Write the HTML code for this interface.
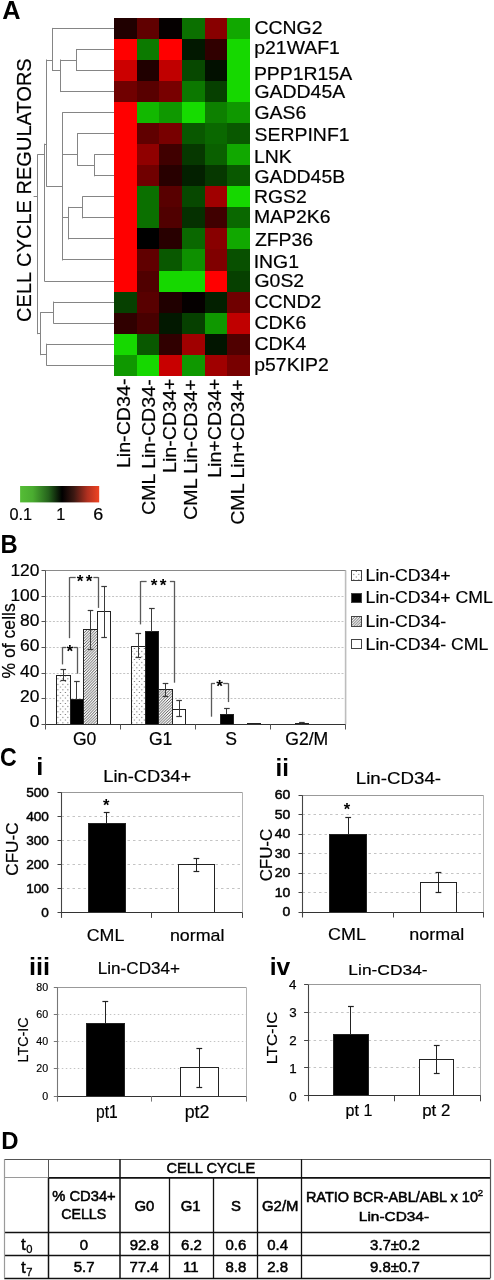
<!DOCTYPE html>
<html><head><meta charset="utf-8"><style>
html,body{margin:0;padding:0;background:#fff;}
svg{display:block;will-change:transform;}
text{font-family:"Liberation Sans", sans-serif;}
</style></head><body>
<svg width="494" height="1280" viewBox="0 0 494 1280" font-family='"Liberation Sans", sans-serif'>
<rect width="494" height="1280" fill="#fff"/>
<g shape-rendering="crispEdges">
<rect x="114" y="17.9" width="23.23" height="21.65" fill="#200000"/>
<rect x="136.63" y="17.9" width="23.23" height="21.65" fill="#600000"/>
<rect x="159.26" y="17.9" width="23.23" height="21.65" fill="#050000"/>
<rect x="181.89" y="17.9" width="23.23" height="21.65" fill="#0b7000"/>
<rect x="204.52" y="17.9" width="23.23" height="21.65" fill="#880000"/>
<rect x="227.15" y="17.9" width="23.23" height="21.65" fill="#11a800"/>
<rect x="114" y="38.95" width="23.23" height="21.65" fill="#ff0000"/>
<rect x="136.63" y="38.95" width="23.23" height="21.65" fill="#0c7a00"/>
<rect x="159.26" y="38.95" width="23.23" height="21.65" fill="#ff0000"/>
<rect x="181.89" y="38.95" width="23.23" height="21.65" fill="#021800"/>
<rect x="204.52" y="38.95" width="23.23" height="21.65" fill="#300000"/>
<rect x="227.15" y="38.95" width="23.23" height="21.65" fill="#16d800"/>
<rect x="114" y="60" width="23.23" height="21.65" fill="#cc0000"/>
<rect x="136.63" y="60" width="23.23" height="21.65" fill="#200000"/>
<rect x="159.26" y="60" width="23.23" height="21.65" fill="#c00000"/>
<rect x="181.89" y="60" width="23.23" height="21.65" fill="#074800"/>
<rect x="204.52" y="60" width="23.23" height="21.65" fill="#021000"/>
<rect x="227.15" y="60" width="23.23" height="21.65" fill="#16d800"/>
<rect x="114" y="81.05" width="23.23" height="21.65" fill="#700000"/>
<rect x="136.63" y="81.05" width="23.23" height="21.65" fill="#580000"/>
<rect x="159.26" y="81.05" width="23.23" height="21.65" fill="#780000"/>
<rect x="181.89" y="81.05" width="23.23" height="21.65" fill="#0c7800"/>
<rect x="204.52" y="81.05" width="23.23" height="21.65" fill="#064000"/>
<rect x="227.15" y="81.05" width="23.23" height="21.65" fill="#16d800"/>
<rect x="114" y="102.1" width="23.23" height="21.65" fill="#ff0000"/>
<rect x="136.63" y="102.1" width="23.23" height="21.65" fill="#12b800"/>
<rect x="159.26" y="102.1" width="23.23" height="21.65" fill="#0f9800"/>
<rect x="181.89" y="102.1" width="23.23" height="21.65" fill="#16dc00"/>
<rect x="204.52" y="102.1" width="23.23" height="21.65" fill="#0d8000"/>
<rect x="227.15" y="102.1" width="23.23" height="21.65" fill="#0f9800"/>
<rect x="114" y="123.15" width="23.23" height="21.65" fill="#ff0000"/>
<rect x="136.63" y="123.15" width="23.23" height="21.65" fill="#600000"/>
<rect x="159.26" y="123.15" width="23.23" height="21.65" fill="#780000"/>
<rect x="181.89" y="123.15" width="23.23" height="21.65" fill="#095800"/>
<rect x="204.52" y="123.15" width="23.23" height="21.65" fill="#0a6800"/>
<rect x="227.15" y="123.15" width="23.23" height="21.65" fill="#095800"/>
<rect x="114" y="144.2" width="23.23" height="21.65" fill="#ff0000"/>
<rect x="136.63" y="144.2" width="23.23" height="21.65" fill="#900000"/>
<rect x="159.26" y="144.2" width="23.23" height="21.65" fill="#400000"/>
<rect x="181.89" y="144.2" width="23.23" height="21.65" fill="#063800"/>
<rect x="204.52" y="144.2" width="23.23" height="21.65" fill="#0a6000"/>
<rect x="227.15" y="144.2" width="23.23" height="21.65" fill="#11a800"/>
<rect x="114" y="165.25" width="23.23" height="21.65" fill="#ff0000"/>
<rect x="136.63" y="165.25" width="23.23" height="21.65" fill="#700000"/>
<rect x="159.26" y="165.25" width="23.23" height="21.65" fill="#280000"/>
<rect x="181.89" y="165.25" width="23.23" height="21.65" fill="#032000"/>
<rect x="204.52" y="165.25" width="23.23" height="21.65" fill="#063800"/>
<rect x="227.15" y="165.25" width="23.23" height="21.65" fill="#095800"/>
<rect x="114" y="186.3" width="23.23" height="21.65" fill="#ff0000"/>
<rect x="136.63" y="186.3" width="23.23" height="21.65" fill="#0b7000"/>
<rect x="159.26" y="186.3" width="23.23" height="21.65" fill="#580000"/>
<rect x="181.89" y="186.3" width="23.23" height="21.65" fill="#074800"/>
<rect x="204.52" y="186.3" width="23.23" height="21.65" fill="#a00000"/>
<rect x="227.15" y="186.3" width="23.23" height="21.65" fill="#16d800"/>
<rect x="114" y="207.35" width="23.23" height="21.65" fill="#ff0000"/>
<rect x="136.63" y="207.35" width="23.23" height="21.65" fill="#0b7000"/>
<rect x="159.26" y="207.35" width="23.23" height="21.65" fill="#500000"/>
<rect x="181.89" y="207.35" width="23.23" height="21.65" fill="#053000"/>
<rect x="204.52" y="207.35" width="23.23" height="21.65" fill="#400000"/>
<rect x="227.15" y="207.35" width="23.23" height="21.65" fill="#0a6800"/>
<rect x="114" y="228.4" width="23.23" height="21.65" fill="#ff0000"/>
<rect x="136.63" y="228.4" width="23.23" height="21.65" fill="#000000"/>
<rect x="159.26" y="228.4" width="23.23" height="21.65" fill="#280000"/>
<rect x="181.89" y="228.4" width="23.23" height="21.65" fill="#0a6800"/>
<rect x="204.52" y="228.4" width="23.23" height="21.65" fill="#880000"/>
<rect x="227.15" y="228.4" width="23.23" height="21.65" fill="#11a800"/>
<rect x="114" y="249.45" width="23.23" height="21.65" fill="#ff0000"/>
<rect x="136.63" y="249.45" width="23.23" height="21.65" fill="#600000"/>
<rect x="159.26" y="249.45" width="23.23" height="21.65" fill="#095800"/>
<rect x="181.89" y="249.45" width="23.23" height="21.65" fill="#0e9000"/>
<rect x="204.52" y="249.45" width="23.23" height="21.65" fill="#800000"/>
<rect x="227.15" y="249.45" width="23.23" height="21.65" fill="#085000"/>
<rect x="114" y="270.5" width="23.23" height="21.65" fill="#ff0000"/>
<rect x="136.63" y="270.5" width="23.23" height="21.65" fill="#500000"/>
<rect x="159.26" y="270.5" width="23.23" height="21.65" fill="#16d800"/>
<rect x="181.89" y="270.5" width="23.23" height="21.65" fill="#16d800"/>
<rect x="204.52" y="270.5" width="23.23" height="21.65" fill="#ff0000"/>
<rect x="227.15" y="270.5" width="23.23" height="21.65" fill="#064000"/>
<rect x="114" y="291.55" width="23.23" height="21.65" fill="#064000"/>
<rect x="136.63" y="291.55" width="23.23" height="21.65" fill="#580000"/>
<rect x="159.26" y="291.55" width="23.23" height="21.65" fill="#200000"/>
<rect x="181.89" y="291.55" width="23.23" height="21.65" fill="#050000"/>
<rect x="204.52" y="291.55" width="23.23" height="21.65" fill="#032000"/>
<rect x="227.15" y="291.55" width="23.23" height="21.65" fill="#700000"/>
<rect x="114" y="312.6" width="23.23" height="21.65" fill="#300000"/>
<rect x="136.63" y="312.6" width="23.23" height="21.65" fill="#480000"/>
<rect x="159.26" y="312.6" width="23.23" height="21.65" fill="#021800"/>
<rect x="181.89" y="312.6" width="23.23" height="21.65" fill="#064000"/>
<rect x="204.52" y="312.6" width="23.23" height="21.65" fill="#0f9800"/>
<rect x="227.15" y="312.6" width="23.23" height="21.65" fill="#c00000"/>
<rect x="114" y="333.65" width="23.23" height="21.65" fill="#16d800"/>
<rect x="136.63" y="333.65" width="23.23" height="21.65" fill="#095800"/>
<rect x="159.26" y="333.65" width="23.23" height="21.65" fill="#300000"/>
<rect x="181.89" y="333.65" width="23.23" height="21.65" fill="#a00000"/>
<rect x="204.52" y="333.65" width="23.23" height="21.65" fill="#021500"/>
<rect x="227.15" y="333.65" width="23.23" height="21.65" fill="#500000"/>
<rect x="114" y="354.7" width="23.23" height="21.65" fill="#0f9800"/>
<rect x="136.63" y="354.7" width="23.23" height="21.65" fill="#16d800"/>
<rect x="159.26" y="354.7" width="23.23" height="21.65" fill="#c80000"/>
<rect x="181.89" y="354.7" width="23.23" height="21.65" fill="#0f9800"/>
<rect x="204.52" y="354.7" width="23.23" height="21.65" fill="#a00000"/>
<rect x="227.15" y="354.7" width="23.23" height="21.65" fill="#780000"/>
</g>
<line x1="76.5" y1="49.5" x2="114" y2="49.5" stroke="#858585" stroke-width="1"/>
<line x1="76.5" y1="70.5" x2="114" y2="70.5" stroke="#858585" stroke-width="1"/>
<line x1="76.5" y1="48.98" x2="76.5" y2="71.03" stroke="#858585" stroke-width="1"/>
<line x1="60.1" y1="60.5" x2="76.5" y2="60.5" stroke="#858585" stroke-width="1"/>
<line x1="60.1" y1="91.5" x2="114" y2="91.5" stroke="#858585" stroke-width="1"/>
<line x1="60.5" y1="59.5" x2="60.5" y2="92.07" stroke="#858585" stroke-width="1"/>
<line x1="52.4" y1="28.5" x2="114" y2="28.5" stroke="#858585" stroke-width="1"/>
<line x1="52.4" y1="70.5" x2="60.1" y2="70.5" stroke="#858585" stroke-width="1"/>
<line x1="52.5" y1="27.92" x2="52.5" y2="71.02" stroke="#858585" stroke-width="1"/>
<line x1="94.5" y1="154.5" x2="114" y2="154.5" stroke="#858585" stroke-width="1"/>
<line x1="94.5" y1="175.5" x2="114" y2="175.5" stroke="#858585" stroke-width="1"/>
<line x1="94.5" y1="154.23" x2="94.5" y2="176.28" stroke="#858585" stroke-width="1"/>
<line x1="77.3" y1="133.5" x2="114" y2="133.5" stroke="#858585" stroke-width="1"/>
<line x1="77.3" y1="165.5" x2="94.5" y2="165.5" stroke="#858585" stroke-width="1"/>
<line x1="77.5" y1="133.18" x2="77.5" y2="165.75" stroke="#858585" stroke-width="1"/>
<line x1="62.9" y1="112.5" x2="114" y2="112.5" stroke="#858585" stroke-width="1"/>
<line x1="62.9" y1="154.5" x2="77.3" y2="154.5" stroke="#858585" stroke-width="1"/>
<line x1="62.5" y1="112.12" x2="62.5" y2="155.23" stroke="#858585" stroke-width="1"/>
<line x1="82.5" y1="196.5" x2="114" y2="196.5" stroke="#858585" stroke-width="1"/>
<line x1="82.5" y1="217.5" x2="114" y2="217.5" stroke="#858585" stroke-width="1"/>
<line x1="82.5" y1="196.33" x2="82.5" y2="218.38" stroke="#858585" stroke-width="1"/>
<line x1="68.2" y1="207.5" x2="82.5" y2="207.5" stroke="#858585" stroke-width="1"/>
<line x1="68.2" y1="238.5" x2="114" y2="238.5" stroke="#858585" stroke-width="1"/>
<line x1="68.5" y1="206.85" x2="68.5" y2="239.43" stroke="#858585" stroke-width="1"/>
<line x1="62.1" y1="217.5" x2="68.2" y2="217.5" stroke="#858585" stroke-width="1"/>
<line x1="62.1" y1="259.5" x2="114" y2="259.5" stroke="#858585" stroke-width="1"/>
<line x1="62.5" y1="217.38" x2="62.5" y2="260.48" stroke="#858585" stroke-width="1"/>
<line x1="62.5" y1="144.5" x2="62.9" y2="144.5" stroke="#858585" stroke-width="1"/>
<line x1="62.5" y1="228.5" x2="62.1" y2="228.5" stroke="#858585" stroke-width="1"/>
<line x1="62.5" y1="143.7" x2="62.5" y2="228.9" stroke="#858585" stroke-width="1"/>
<line x1="46.6" y1="60.5" x2="52.4" y2="60.5" stroke="#858585" stroke-width="1"/>
<line x1="46.6" y1="186.5" x2="62.5" y2="186.5" stroke="#858585" stroke-width="1"/>
<line x1="46.5" y1="59.5" x2="46.5" y2="186.8" stroke="#858585" stroke-width="1"/>
<line x1="44.6" y1="144.5" x2="46.6" y2="144.5" stroke="#858585" stroke-width="1"/>
<line x1="44.6" y1="281.5" x2="114" y2="281.5" stroke="#858585" stroke-width="1"/>
<line x1="44.5" y1="143.7" x2="44.5" y2="281.52" stroke="#858585" stroke-width="1"/>
<line x1="53.5" y1="302.5" x2="114" y2="302.5" stroke="#858585" stroke-width="1"/>
<line x1="53.5" y1="323.5" x2="114" y2="323.5" stroke="#858585" stroke-width="1"/>
<line x1="53.5" y1="301.57" x2="53.5" y2="323.62" stroke="#858585" stroke-width="1"/>
<line x1="46.6" y1="344.5" x2="114" y2="344.5" stroke="#858585" stroke-width="1"/>
<line x1="46.6" y1="365.5" x2="114" y2="365.5" stroke="#858585" stroke-width="1"/>
<line x1="46.5" y1="343.68" x2="46.5" y2="365.72" stroke="#858585" stroke-width="1"/>
<line x1="40.7" y1="312.5" x2="53.5" y2="312.5" stroke="#858585" stroke-width="1"/>
<line x1="40.7" y1="354.5" x2="46.6" y2="354.5" stroke="#858585" stroke-width="1"/>
<line x1="40.5" y1="312.1" x2="40.5" y2="355.2" stroke="#858585" stroke-width="1"/>
<line x1="37.6" y1="154.5" x2="44.6" y2="154.5" stroke="#858585" stroke-width="1"/>
<line x1="37.6" y1="333.5" x2="40.7" y2="333.5" stroke="#858585" stroke-width="1"/>
<line x1="37.5" y1="154.22" x2="37.5" y2="334.15" stroke="#858585" stroke-width="1"/>
<line x1="33.6" y1="196.5" x2="37.6" y2="196.5" stroke="#858585" stroke-width="1"/>
<text transform="translate(2.27,18.5) scale(1,1)" font-size="25.3" font-weight="bold" fill="#000">A</text>
<text transform="translate(31.3,321.92) rotate(-90) scale(0.96,1)" font-size="20.9" stroke="#000" stroke-width="0.2" fill="#000">CELL CYCLE REGULATORS</text>
<text transform="translate(254.51,34.3) scale(1.05,1)" font-size="18.5" stroke="#000" stroke-width="0.2" fill="#000">CCNG2</text>
<text transform="translate(254.25,54.3) scale(1.05,1)" font-size="18.5" stroke="#000" stroke-width="0.2" fill="#000">p21WAF1</text>
<text transform="translate(253.91,79.7) scale(1.05,1)" font-size="18.5" stroke="#000" stroke-width="0.2" fill="#000">PPP1R15A</text>
<text transform="translate(254.52,98.1) scale(1.05,1)" font-size="18.5" stroke="#000" stroke-width="0.2" fill="#000">GADD45A</text>
<text transform="translate(254.52,119.3) scale(1.05,1)" font-size="18.5" stroke="#000" stroke-width="0.2" fill="#000">GAS6</text>
<text transform="translate(254.62,141.1) scale(1.05,1)" font-size="18.5" stroke="#000" stroke-width="0.2" fill="#000">SERPINF1</text>
<text transform="translate(253.91,162.9) scale(1.05,1)" font-size="18.5" stroke="#000" stroke-width="0.2" fill="#000">LNK</text>
<text transform="translate(254.52,182.9) scale(1.05,1)" font-size="18.5" stroke="#000" stroke-width="0.2" fill="#000">GADD45B</text>
<text transform="translate(253.91,203.3) scale(1.05,1)" font-size="18.5" stroke="#000" stroke-width="0.2" fill="#000">RGS2</text>
<text transform="translate(253.91,223.1) scale(1.05,1)" font-size="18.5" stroke="#000" stroke-width="0.2" fill="#000">MAP2K6</text>
<text transform="translate(254.88,246.3) scale(1.05,1)" font-size="18.5" stroke="#000" stroke-width="0.2" fill="#000">ZFP36</text>
<text transform="translate(253.71,267.5) scale(1.05,1)" font-size="18.5" stroke="#000" stroke-width="0.2" fill="#000">ING1</text>
<text transform="translate(254.52,287.3) scale(1.05,1)" font-size="18.5" stroke="#000" stroke-width="0.2" fill="#000">G0S2</text>
<text transform="translate(254.51,307.9) scale(1.05,1)" font-size="18.5" stroke="#000" stroke-width="0.2" fill="#000">CCND2</text>
<text transform="translate(254.51,329.1) scale(1.05,1)" font-size="18.5" stroke="#000" stroke-width="0.2" fill="#000">CDK6</text>
<text transform="translate(254.51,350.1) scale(1.05,1)" font-size="18.5" stroke="#000" stroke-width="0.2" fill="#000">CDK4</text>
<text transform="translate(254.25,370.8) scale(1.05,1)" font-size="18.5" stroke="#000" stroke-width="0.2" fill="#000">p57KIP2</text>
<text transform="translate(130.4,468.1) rotate(-90) scale(1.08,1)" font-size="18.2" stroke="#000" stroke-width="0.2" fill="#000">Lin-CD34-</text>
<text transform="translate(154.5,515.06) rotate(-90) scale(1.08,1)" font-size="18.2" stroke="#000" stroke-width="0.2" fill="#000">CML Lin-CD34-</text>
<text transform="translate(175.8,472.94) rotate(-90) scale(1.08,1)" font-size="18.2" stroke="#000" stroke-width="0.2" fill="#000">Lin-CD34+</text>
<text transform="translate(197,519.9) rotate(-90) scale(1.08,1)" font-size="18.2" stroke="#000" stroke-width="0.2" fill="#000">CML Lin-CD34+</text>
<text transform="translate(221.1,477.87) rotate(-90) scale(1.08,1)" font-size="18.2" stroke="#000" stroke-width="0.2" fill="#000">Lin+CD34+</text>
<text transform="translate(243.8,524.83) rotate(-90) scale(1.08,1)" font-size="18.2" stroke="#000" stroke-width="0.2" fill="#000">CML Lin+CD34+</text>
<defs><linearGradient id="cs" x1="0" x2="1" y1="0" y2="0"><stop offset="0" stop-color="#55bd36"/><stop offset="0.16" stop-color="#4aac30"/><stop offset="0.36" stop-color="#25621c"/><stop offset="0.53" stop-color="#000"/><stop offset="0.68" stop-color="#3c1812"/><stop offset="0.85" stop-color="#b03020"/><stop offset="1" stop-color="#f04422"/></linearGradient></defs>
<rect x="20.1" y="486" width="79.1" height="16.4" fill="url(#cs)"/>
<text transform="translate(9.46,520) scale(1,1)" font-size="16.3" stroke="#000" stroke-width="0.2" fill="#000">0.1</text>
<text transform="translate(56.24,520) scale(1,1)" font-size="16.3" stroke="#000" stroke-width="0.2" fill="#000">1</text>
<text transform="translate(93.3,520) scale(1.1,1)" font-size="16.3" stroke="#000" stroke-width="0.2" fill="#000">6</text>
<defs><pattern id="dots" patternUnits="userSpaceOnUse" width="4.93" height="5.5" x="0" y="0"><rect width="4.93" height="5.5" fill="#fff"/><rect x="0.8" y="4.6" width="1" height="1" fill="#5a5a5a"/><rect x="3.26" y="1.85" width="1" height="1" fill="#5a5a5a"/></pattern><pattern id="hatch" patternUnits="userSpaceOnUse" width="2.8" height="2.8"><rect width="2.8" height="2.8" fill="#fafafa"/><path d="M-1,1 L1,-1 M0,2.8 L2.8,0 M1.8,3.8 L3.8,1.8" stroke="#3a3a3a" stroke-width="0.85"/></pattern></defs>
<text transform="translate(0.51,552.8) scale(0.93,1)" font-size="25.6" font-weight="bold" fill="#000">B</text>
<line x1="45.5" y1="698.5" x2="345" y2="698.5" stroke="#c4c4c4" stroke-width="1" stroke-dasharray="2,1.7"/>
<line x1="45.5" y1="673.5" x2="345" y2="673.5" stroke="#c4c4c4" stroke-width="1" stroke-dasharray="2,1.7"/>
<line x1="45.5" y1="647.5" x2="345" y2="647.5" stroke="#c4c4c4" stroke-width="1" stroke-dasharray="2,1.7"/>
<line x1="45.5" y1="621.5" x2="345" y2="621.5" stroke="#c4c4c4" stroke-width="1" stroke-dasharray="2,1.7"/>
<line x1="45.5" y1="596.5" x2="345" y2="596.5" stroke="#c4c4c4" stroke-width="1" stroke-dasharray="2,1.7"/>
<line x1="45.5" y1="570.5" x2="346" y2="570.5" stroke="#8a8a8a" stroke-width="1"/>
<line x1="345.6" y1="570.4" x2="345.6" y2="724.4" stroke="#bdbdbd" stroke-width="1.6"/>
<line x1="41.5" y1="724.5" x2="45.5" y2="724.5" stroke="#555" stroke-width="1"/>
<text transform="translate(29.79,726.99) scale(1.05,1)" font-size="16.6" stroke="#000" stroke-width="0.2" fill="#000">0</text>
<line x1="41.5" y1="698.5" x2="45.5" y2="698.5" stroke="#555" stroke-width="1"/>
<text transform="translate(20.09,701.78) scale(1.05,1)" font-size="16.6" stroke="#000" stroke-width="0.2" fill="#000">20</text>
<line x1="41.5" y1="673.5" x2="45.5" y2="673.5" stroke="#555" stroke-width="1"/>
<text transform="translate(20.09,676.56) scale(1.05,1)" font-size="16.6" stroke="#000" stroke-width="0.2" fill="#000">40</text>
<line x1="41.5" y1="647.5" x2="45.5" y2="647.5" stroke="#555" stroke-width="1"/>
<text transform="translate(20.09,651.34) scale(1.05,1)" font-size="16.6" stroke="#000" stroke-width="0.2" fill="#000">60</text>
<line x1="41.5" y1="621.5" x2="45.5" y2="621.5" stroke="#555" stroke-width="1"/>
<text transform="translate(20.09,626.13) scale(1.05,1)" font-size="16.6" stroke="#000" stroke-width="0.2" fill="#000">80</text>
<line x1="41.5" y1="596.5" x2="45.5" y2="596.5" stroke="#555" stroke-width="1"/>
<text transform="translate(10.4,600.91) scale(1.05,1)" font-size="16.6" stroke="#000" stroke-width="0.2" fill="#000">100</text>
<line x1="41.5" y1="570.5" x2="45.5" y2="570.5" stroke="#555" stroke-width="1"/>
<text transform="translate(10.4,575.69) scale(1.05,1)" font-size="16.6" stroke="#000" stroke-width="0.2" fill="#000">120</text>
<text transform="translate(14.9,678.53) rotate(-90) scale(1,1)" font-size="17.6" stroke="#000" stroke-width="0.2" fill="#000">% of cells</text>
<rect x="56.5" y="675.5" width="14" height="49" fill="url(#dots)" stroke="#222" stroke-width="1"/>
<line x1="63.5" y1="669.86" x2="63.5" y2="680.25" stroke="#3a3a3a" stroke-width="1"/>
<line x1="60.5" y1="669.5" x2="66.1" y2="669.5" stroke="#3a3a3a" stroke-width="1.2"/>
<line x1="60.5" y1="680.5" x2="66.1" y2="680.5" stroke="#3a3a3a" stroke-width="1.2"/>
<rect x="70.5" y="699.5" width="13" height="25" fill="#000" stroke="#222" stroke-width="1"/>
<line x1="76.5" y1="681.02" x2="76.5" y2="699.76" stroke="#3a3a3a" stroke-width="1"/>
<line x1="74.1" y1="681.5" x2="79.7" y2="681.5" stroke="#3a3a3a" stroke-width="1.2"/>
<rect x="83.5" y="629.5" width="14" height="95" fill="url(#hatch)" stroke="#222" stroke-width="1"/>
<line x1="90.5" y1="610.95" x2="90.5" y2="649.45" stroke="#3a3a3a" stroke-width="1"/>
<line x1="87.7" y1="610.5" x2="93.3" y2="610.5" stroke="#3a3a3a" stroke-width="1.2"/>
<line x1="87.7" y1="649.5" x2="93.3" y2="649.5" stroke="#3a3a3a" stroke-width="1.2"/>
<rect x="97.5" y="611.5" width="13" height="113" fill="#fff" stroke="#222" stroke-width="1"/>
<line x1="104.5" y1="586.18" x2="104.5" y2="637.13" stroke="#3a3a3a" stroke-width="1"/>
<line x1="101.3" y1="586.5" x2="106.9" y2="586.5" stroke="#3a3a3a" stroke-width="1.2"/>
<line x1="101.3" y1="637.5" x2="106.9" y2="637.5" stroke="#3a3a3a" stroke-width="1.2"/>
<rect x="131.5" y="646.5" width="14" height="78" fill="url(#dots)" stroke="#222" stroke-width="1"/>
<line x1="138.5" y1="633.41" x2="138.5" y2="657.67" stroke="#3a3a3a" stroke-width="1"/>
<line x1="135.5" y1="633.5" x2="141.1" y2="633.5" stroke="#3a3a3a" stroke-width="1.2"/>
<line x1="135.5" y1="657.5" x2="141.1" y2="657.5" stroke="#3a3a3a" stroke-width="1.2"/>
<rect x="145.5" y="631.5" width="13" height="93" fill="#000" stroke="#222" stroke-width="1"/>
<line x1="151.5" y1="608.64" x2="151.5" y2="631.87" stroke="#3a3a3a" stroke-width="1"/>
<line x1="149.1" y1="608.5" x2="154.7" y2="608.5" stroke="#3a3a3a" stroke-width="1.2"/>
<rect x="158.5" y="689.5" width="14" height="35" fill="url(#hatch)" stroke="#222" stroke-width="1"/>
<line x1="165.5" y1="683.08" x2="165.5" y2="696.55" stroke="#3a3a3a" stroke-width="1"/>
<line x1="162.7" y1="683.5" x2="168.3" y2="683.5" stroke="#3a3a3a" stroke-width="1.2"/>
<line x1="162.7" y1="696.5" x2="168.3" y2="696.5" stroke="#3a3a3a" stroke-width="1.2"/>
<rect x="172.5" y="709.5" width="13" height="15" fill="#fff" stroke="#222" stroke-width="1"/>
<line x1="179.5" y1="700.4" x2="179.5" y2="716.7" stroke="#3a3a3a" stroke-width="1"/>
<line x1="176.3" y1="700.5" x2="181.9" y2="700.5" stroke="#3a3a3a" stroke-width="1.2"/>
<line x1="176.3" y1="716.5" x2="181.9" y2="716.5" stroke="#3a3a3a" stroke-width="1.2"/>
<rect x="206.5" y="724.5" width="14" height="0" fill="url(#dots)" stroke="#222" stroke-width="1"/>
<rect x="220.5" y="714.5" width="13" height="10" fill="#000" stroke="#222" stroke-width="1"/>
<line x1="226.5" y1="708.23" x2="226.5" y2="714.26" stroke="#3a3a3a" stroke-width="1"/>
<line x1="224.1" y1="708.5" x2="229.7" y2="708.5" stroke="#3a3a3a" stroke-width="1.2"/>
<rect x="247.5" y="723.5" width="13" height="1" fill="#fff" stroke="#222" stroke-width="1"/>
<rect x="295.5" y="723.5" width="13" height="1" fill="#000" stroke="#222" stroke-width="1"/>
<line x1="301.5" y1="722.73" x2="301.5" y2="723.63" stroke="#3a3a3a" stroke-width="1"/>
<line x1="299.1" y1="722.5" x2="304.7" y2="722.5" stroke="#3a3a3a" stroke-width="1.2"/>
<line x1="45.5" y1="570.4" x2="45.5" y2="724.4" stroke="#555" stroke-width="1"/>
<line x1="45.5" y1="724.5" x2="345.5" y2="724.5" stroke="#333" stroke-width="1.2"/>
<line x1="45.5" y1="724.4" x2="45.5" y2="729.5" stroke="#555" stroke-width="1"/>
<line x1="120.5" y1="724.4" x2="120.5" y2="729.5" stroke="#555" stroke-width="1"/>
<line x1="195.5" y1="724.4" x2="195.5" y2="729.5" stroke="#555" stroke-width="1"/>
<line x1="270.5" y1="724.4" x2="270.5" y2="729.5" stroke="#555" stroke-width="1"/>
<line x1="345.5" y1="724.4" x2="345.5" y2="729.5" stroke="#555" stroke-width="1"/>
<text transform="translate(72.91,745.1) scale(1,1)" font-size="17.6" stroke="#000" stroke-width="0.2" fill="#000">G0</text>
<text transform="translate(148.9,745.1) scale(1,1)" font-size="17.6" stroke="#000" stroke-width="0.2" fill="#000">G1</text>
<text transform="translate(225.33,745.1) scale(1,1)" font-size="17.6" stroke="#000" stroke-width="0.2" fill="#000">S</text>
<text transform="translate(285.21,745.1) scale(1,1)" font-size="17.6" stroke="#000" stroke-width="0.2" fill="#000">G2/M</text>
<line x1="62.5" y1="647.2" x2="62.5" y2="664.4" stroke="#5a5a5a" stroke-width="1.3"/>
<line x1="77.5" y1="647.2" x2="77.5" y2="673.7" stroke="#5a5a5a" stroke-width="1.3"/>
<line x1="62.4" y1="647.5" x2="66.2" y2="647.5" stroke="#5a5a5a" stroke-width="1.3"/>
<line x1="73.4" y1="647.5" x2="77.5" y2="647.5" stroke="#5a5a5a" stroke-width="1.3"/>
<text transform="translate(66.44,657.23) scale(1,1)" font-size="17.2" font-weight="bold" fill="#000">*</text>
<line x1="69.5" y1="577.1" x2="69.5" y2="638.2" stroke="#5a5a5a" stroke-width="1.3"/>
<line x1="98.5" y1="577.1" x2="98.5" y2="607.9" stroke="#5a5a5a" stroke-width="1.3"/>
<line x1="69.8" y1="577.5" x2="75.7" y2="577.5" stroke="#5a5a5a" stroke-width="1.3"/>
<line x1="93.4" y1="577.5" x2="98.3" y2="577.5" stroke="#5a5a5a" stroke-width="1.3"/>
<text transform="translate(76.69,587.13) scale(1,1)" font-size="17.2" font-weight="bold" fill="#000">*</text>
<text transform="translate(85.64,587.13) scale(1,1)" font-size="17.2" font-weight="bold" fill="#000">*</text>
<line x1="140.5" y1="581" x2="140.5" y2="624.4" stroke="#5a5a5a" stroke-width="1.3"/>
<line x1="174.5" y1="581" x2="174.5" y2="682.7" stroke="#5a5a5a" stroke-width="1.3"/>
<line x1="140.9" y1="581.5" x2="146.6" y2="581.5" stroke="#5a5a5a" stroke-width="1.3"/>
<line x1="169.9" y1="581.5" x2="174.5" y2="581.5" stroke="#5a5a5a" stroke-width="1.3"/>
<text transform="translate(150.74,591.23) scale(1,1)" font-size="17.2" font-weight="bold" fill="#000">*</text>
<text transform="translate(159.74,591.23) scale(1,1)" font-size="17.2" font-weight="bold" fill="#000">*</text>
<line x1="211.5" y1="683.2" x2="211.5" y2="716.7" stroke="#5a5a5a" stroke-width="1.3"/>
<line x1="228.5" y1="683.2" x2="228.5" y2="702.1" stroke="#5a5a5a" stroke-width="1.3"/>
<line x1="211.3" y1="683.5" x2="215" y2="683.5" stroke="#5a5a5a" stroke-width="1.3"/>
<line x1="223.2" y1="683.5" x2="228.2" y2="683.5" stroke="#5a5a5a" stroke-width="1.3"/>
<text transform="translate(216.34,692.33) scale(1,1)" font-size="17.2" font-weight="bold" fill="#000">*</text>
<rect x="351.5" y="570.5" width="10" height="10" fill="url(#dots)" stroke="#444" stroke-width="1"/>
<text transform="translate(365.55,581) scale(1.03,1)" font-size="17.2" stroke="#000" stroke-width="0.2" fill="#000">Lin-CD34+</text>
<rect x="351.5" y="593.5" width="10" height="9" fill="#000" stroke="#444" stroke-width="1"/>
<text transform="translate(365.55,603.4) scale(1.03,1)" font-size="17.2" stroke="#000" stroke-width="0.2" fill="#000">Lin-CD34+ CML</text>
<rect x="351.5" y="616.5" width="10" height="10" fill="url(#hatch)" stroke="#444" stroke-width="1"/>
<text transform="translate(365.55,626.9) scale(1.03,1)" font-size="17.2" stroke="#000" stroke-width="0.2" fill="#000">Lin-CD34-</text>
<rect x="351.5" y="639.5" width="10" height="9" fill="#fff" stroke="#444" stroke-width="1"/>
<text transform="translate(365.55,649.6) scale(1.03,1)" font-size="17.2" stroke="#000" stroke-width="0.2" fill="#000">Lin-CD34- CML</text>
<text transform="translate(0.05,765.5) scale(0.9,1)" font-size="25.7" font-weight="bold" fill="#000">C</text>
<text transform="translate(36.23,775.4) scale(1.07,1)" font-size="23.7" font-weight="bold" fill="#000">i</text>
<text transform="translate(103.3,782.3) scale(1.13,1)" font-size="16.2" stroke="#000" stroke-width="0.2" fill="#000">Lin-CD34+</text>
<line x1="61.5" y1="888.5" x2="242.4" y2="888.5" stroke="#c4c4c4" stroke-width="1" stroke-dasharray="2.5,3"/>
<line x1="61.5" y1="864.5" x2="242.4" y2="864.5" stroke="#c4c4c4" stroke-width="1" stroke-dasharray="2.5,3"/>
<line x1="61.5" y1="840.5" x2="242.4" y2="840.5" stroke="#c4c4c4" stroke-width="1" stroke-dasharray="2.5,3"/>
<line x1="61.5" y1="816.5" x2="242.4" y2="816.5" stroke="#c4c4c4" stroke-width="1" stroke-dasharray="2.5,3"/>
<line x1="61.5" y1="792.5" x2="242.4" y2="792.5" stroke="#999" stroke-width="1"/>
<line x1="242.5" y1="792.3" x2="242.5" y2="912.4" stroke="#b4b4b4" stroke-width="1"/>
<line x1="57.5" y1="912.5" x2="61.5" y2="912.5" stroke="#444" stroke-width="1"/>
<text transform="translate(41.36,916.9) scale(1.06,1)" font-size="12.85" stroke="#000" stroke-width="0.45" fill="#000">0</text>
<line x1="57.5" y1="888.5" x2="61.5" y2="888.5" stroke="#444" stroke-width="1"/>
<text transform="translate(26.21,892.88) scale(1.06,1)" font-size="12.85" stroke="#000" stroke-width="0.45" fill="#000">100</text>
<line x1="57.5" y1="864.5" x2="61.5" y2="864.5" stroke="#444" stroke-width="1"/>
<text transform="translate(26.21,868.86) scale(1.06,1)" font-size="12.85" stroke="#000" stroke-width="0.45" fill="#000">200</text>
<line x1="57.5" y1="840.5" x2="61.5" y2="840.5" stroke="#444" stroke-width="1"/>
<text transform="translate(26.21,844.84) scale(1.06,1)" font-size="12.85" stroke="#000" stroke-width="0.45" fill="#000">300</text>
<line x1="57.5" y1="816.5" x2="61.5" y2="816.5" stroke="#444" stroke-width="1"/>
<text transform="translate(26.21,820.82) scale(1.06,1)" font-size="12.85" stroke="#000" stroke-width="0.45" fill="#000">400</text>
<line x1="57.5" y1="792.5" x2="61.5" y2="792.5" stroke="#444" stroke-width="1"/>
<text transform="translate(26.21,796.8) scale(1.06,1)" font-size="12.85" stroke="#000" stroke-width="0.45" fill="#000">500</text>
<rect x="88.5" y="823.5" width="37" height="89" fill="#000" stroke="#222" stroke-width="1"/>
<line x1="106.5" y1="812.24" x2="106.5" y2="823.53" stroke="#222" stroke-width="1"/>
<line x1="103.75" y1="812.5" x2="109.55" y2="812.5" stroke="#222" stroke-width="1.2"/>
<rect x="178.5" y="864.5" width="36" height="48" fill="#fff" stroke="#222" stroke-width="1"/>
<line x1="196.5" y1="858.6" x2="196.5" y2="871.33" stroke="#222" stroke-width="1"/>
<line x1="193.5" y1="858.5" x2="199.3" y2="858.5" stroke="#222" stroke-width="1.2"/>
<line x1="193.5" y1="871.5" x2="199.3" y2="871.5" stroke="#222" stroke-width="1.2"/>
<line x1="61.5" y1="792.3" x2="61.5" y2="917.9" stroke="#444" stroke-width="1.1"/>
<line x1="61.5" y1="912.5" x2="242.4" y2="912.5" stroke="#333" stroke-width="1.2"/>
<line x1="151.5" y1="912.4" x2="151.5" y2="917.9" stroke="#444" stroke-width="1"/>
<line x1="242.5" y1="912.4" x2="242.5" y2="917.9" stroke="#444" stroke-width="1"/>
<text transform="translate(103.07,810.68) scale(1,1)" font-size="16.5" font-weight="bold" fill="#000">*</text>
<text transform="translate(17.9,875.67) rotate(-90) scale(1,1)" font-size="17.1" stroke="#000" stroke-width="0.2" fill="#000">CFU-C</text>
<text transform="translate(86.7,941.3) scale(1.03,1)" font-size="17.3" stroke="#000" stroke-width="0.2" fill="#000">CML</text>
<text transform="translate(169.91,941.3) scale(1.05,1)" font-size="17" stroke="#000" stroke-width="0.2" fill="#000">normal</text>
<text transform="translate(275.52,775.6) scale(1,1)" font-size="24.1" font-weight="bold" fill="#000">ii</text>
<text transform="translate(355.76,783.8) scale(1.17,1)" font-size="16" stroke="#000" stroke-width="0.2" fill="#000">Lin-CD34-</text>
<line x1="302.5" y1="892.5" x2="483.5" y2="892.5" stroke="#c4c4c4" stroke-width="1" stroke-dasharray="2.5,3"/>
<line x1="302.5" y1="873.5" x2="483.5" y2="873.5" stroke="#c4c4c4" stroke-width="1" stroke-dasharray="2.5,3"/>
<line x1="302.5" y1="853.5" x2="483.5" y2="853.5" stroke="#c4c4c4" stroke-width="1" stroke-dasharray="2.5,3"/>
<line x1="302.5" y1="834.5" x2="483.5" y2="834.5" stroke="#c4c4c4" stroke-width="1" stroke-dasharray="2.5,3"/>
<line x1="302.5" y1="814.5" x2="483.5" y2="814.5" stroke="#c4c4c4" stroke-width="1" stroke-dasharray="2.5,3"/>
<line x1="302.5" y1="795.5" x2="483.5" y2="795.5" stroke="#999" stroke-width="1"/>
<line x1="483.5" y1="795.3" x2="483.5" y2="912" stroke="#b4b4b4" stroke-width="1"/>
<line x1="298.5" y1="912.5" x2="302.5" y2="912.5" stroke="#444" stroke-width="1"/>
<text transform="translate(282.4,916) scale(1.17,1)" font-size="11.9" stroke="#000" stroke-width="0.45" fill="#000">0</text>
<line x1="298.5" y1="892.5" x2="302.5" y2="892.5" stroke="#444" stroke-width="1"/>
<text transform="translate(274.66,896.55) scale(1.17,1)" font-size="11.9" stroke="#000" stroke-width="0.45" fill="#000">10</text>
<line x1="298.5" y1="873.5" x2="302.5" y2="873.5" stroke="#444" stroke-width="1"/>
<text transform="translate(274.66,877.1) scale(1.17,1)" font-size="11.9" stroke="#000" stroke-width="0.45" fill="#000">20</text>
<line x1="298.5" y1="853.5" x2="302.5" y2="853.5" stroke="#444" stroke-width="1"/>
<text transform="translate(274.66,857.65) scale(1.17,1)" font-size="11.9" stroke="#000" stroke-width="0.45" fill="#000">30</text>
<line x1="298.5" y1="834.5" x2="302.5" y2="834.5" stroke="#444" stroke-width="1"/>
<text transform="translate(274.66,838.2) scale(1.17,1)" font-size="11.9" stroke="#000" stroke-width="0.45" fill="#000">40</text>
<line x1="298.5" y1="814.5" x2="302.5" y2="814.5" stroke="#444" stroke-width="1"/>
<text transform="translate(274.66,818.75) scale(1.17,1)" font-size="11.9" stroke="#000" stroke-width="0.45" fill="#000">50</text>
<line x1="298.5" y1="795.5" x2="302.5" y2="795.5" stroke="#444" stroke-width="1"/>
<text transform="translate(274.66,799.3) scale(1.17,1)" font-size="11.9" stroke="#000" stroke-width="0.45" fill="#000">60</text>
<rect x="329.5" y="834.5" width="37" height="78" fill="#000" stroke="#222" stroke-width="1"/>
<line x1="348.5" y1="817.08" x2="348.5" y2="834.2" stroke="#222" stroke-width="1"/>
<line x1="345.3" y1="817.5" x2="351.1" y2="817.5" stroke="#222" stroke-width="1.2"/>
<rect x="420.5" y="882.5" width="36" height="30" fill="#fff" stroke="#222" stroke-width="1"/>
<line x1="438.5" y1="872.13" x2="438.5" y2="892.36" stroke="#222" stroke-width="1"/>
<line x1="435.55" y1="872.5" x2="441.35" y2="872.5" stroke="#222" stroke-width="1.2"/>
<line x1="435.55" y1="892.5" x2="441.35" y2="892.5" stroke="#222" stroke-width="1.2"/>
<line x1="302.5" y1="795.3" x2="302.5" y2="917.5" stroke="#444" stroke-width="1.1"/>
<line x1="302.5" y1="912.5" x2="483.5" y2="912.5" stroke="#333" stroke-width="1.2"/>
<line x1="393.5" y1="912" x2="393.5" y2="917.5" stroke="#444" stroke-width="1"/>
<line x1="483.5" y1="912" x2="483.5" y2="917.5" stroke="#444" stroke-width="1"/>
<text transform="translate(343.87,815.18) scale(1,1)" font-size="16.5" font-weight="bold" fill="#000">*</text>
<text transform="translate(271.7,881.36) rotate(-90) scale(1.03,1)" font-size="16.4" stroke="#000" stroke-width="0.2" fill="#000">CFU-C</text>
<text transform="translate(328.09,940) scale(1.05,1)" font-size="17.1" stroke="#000" stroke-width="0.2" fill="#000">CML</text>
<text transform="translate(409.31,940) scale(1.05,1)" font-size="17.1" stroke="#000" stroke-width="0.2" fill="#000">normal</text>
<text transform="translate(28.93,975.3) scale(1.07,1)" font-size="23.7" font-weight="bold" fill="#000">iii</text>
<text transform="translate(97.8,974.3) scale(1.07,1)" font-size="16" stroke="#000" stroke-width="0.2" fill="#000">Lin-CD34+</text>
<line x1="57.8" y1="1068.5" x2="246.1" y2="1068.5" stroke="#c4c4c4" stroke-width="1" stroke-dasharray="1.5,2.5"/>
<line x1="57.8" y1="1041.5" x2="246.1" y2="1041.5" stroke="#c4c4c4" stroke-width="1" stroke-dasharray="1.5,2.5"/>
<line x1="57.8" y1="1014.5" x2="246.1" y2="1014.5" stroke="#c4c4c4" stroke-width="1" stroke-dasharray="1.5,2.5"/>
<line x1="57.8" y1="987.5" x2="246.1" y2="987.5" stroke="#999" stroke-width="1"/>
<line x1="246.5" y1="987.3" x2="246.5" y2="1096.1" stroke="#b4b4b4" stroke-width="1"/>
<line x1="53.8" y1="1096.5" x2="57.8" y2="1096.5" stroke="#777" stroke-width="1"/>
<text transform="translate(42.27,1099.6) scale(1.07,1)" font-size="10" stroke="#000" stroke-width="0.15" fill="#000">0</text>
<line x1="53.8" y1="1068.5" x2="57.8" y2="1068.5" stroke="#777" stroke-width="1"/>
<text transform="translate(36.32,1072.4) scale(1.07,1)" font-size="10" stroke="#000" stroke-width="0.15" fill="#000">20</text>
<line x1="53.8" y1="1041.5" x2="57.8" y2="1041.5" stroke="#777" stroke-width="1"/>
<text transform="translate(36.32,1045.2) scale(1.07,1)" font-size="10" stroke="#000" stroke-width="0.15" fill="#000">40</text>
<line x1="53.8" y1="1014.5" x2="57.8" y2="1014.5" stroke="#777" stroke-width="1"/>
<text transform="translate(36.32,1018) scale(1.07,1)" font-size="10" stroke="#000" stroke-width="0.15" fill="#000">60</text>
<line x1="53.8" y1="987.5" x2="57.8" y2="987.5" stroke="#777" stroke-width="1"/>
<text transform="translate(36.32,990.8) scale(1.07,1)" font-size="10" stroke="#000" stroke-width="0.15" fill="#000">80</text>
<rect x="86.5" y="1023.5" width="38" height="73" fill="#000" stroke="#222" stroke-width="1"/>
<line x1="105.5" y1="1001.44" x2="105.5" y2="1023.34" stroke="#222" stroke-width="1"/>
<line x1="102.4" y1="1001.5" x2="108.2" y2="1001.5" stroke="#222" stroke-width="1.2"/>
<rect x="180.5" y="1067.5" width="38" height="29" fill="#fff" stroke="#222" stroke-width="1"/>
<line x1="199.5" y1="1048.09" x2="199.5" y2="1087.53" stroke="#222" stroke-width="1"/>
<line x1="196.4" y1="1048.5" x2="202.2" y2="1048.5" stroke="#222" stroke-width="1.2"/>
<line x1="196.4" y1="1087.5" x2="202.2" y2="1087.5" stroke="#222" stroke-width="1.2"/>
<line x1="57.5" y1="987.3" x2="57.5" y2="1101.6" stroke="#777" stroke-width="1.1"/>
<line x1="57.8" y1="1096.5" x2="246.1" y2="1096.5" stroke="#333" stroke-width="1.2"/>
<line x1="151.5" y1="1096.1" x2="151.5" y2="1101.6" stroke="#777" stroke-width="1"/>
<line x1="246.5" y1="1096.1" x2="246.5" y2="1101.6" stroke="#777" stroke-width="1"/>
<text transform="translate(28.4,1062.48) rotate(-90) scale(1.01,1)" font-size="14.2" stroke="#000" stroke-width="0.2" fill="#000">LTC-IC</text>
<text transform="translate(95.99,1117.5) scale(0.86,1)" font-size="18.2" stroke="#000" stroke-width="0.2" fill="#000">pt1</text>
<text transform="translate(184.65,1117.6) scale(1,1)" font-size="17.8" stroke="#000" stroke-width="0.2" fill="#000">pt2</text>
<text transform="translate(269.78,975.2) scale(1.07,1)" font-size="23" font-weight="bold" fill="#000">iv</text>
<text transform="translate(348.37,975.4) scale(1.13,1)" font-size="15.4" stroke="#000" stroke-width="0.2" fill="#000">Lin-CD34-</text>
<line x1="308.1" y1="1067.5" x2="480.8" y2="1067.5" stroke="#c4c4c4" stroke-width="1" stroke-dasharray="2.5,3"/>
<line x1="308.1" y1="1040.5" x2="480.8" y2="1040.5" stroke="#c4c4c4" stroke-width="1" stroke-dasharray="2.5,3"/>
<line x1="308.1" y1="1012.5" x2="480.8" y2="1012.5" stroke="#c4c4c4" stroke-width="1" stroke-dasharray="2.5,3"/>
<line x1="308.1" y1="984.5" x2="480.8" y2="984.5" stroke="#999" stroke-width="1"/>
<line x1="480.5" y1="984.5" x2="480.5" y2="1095.8" stroke="#b4b4b4" stroke-width="1"/>
<line x1="304.1" y1="1095.5" x2="308.1" y2="1095.5" stroke="#444" stroke-width="1"/>
<text transform="translate(289.22,1100.5) scale(1,1)" font-size="13.3" stroke="#000" stroke-width="0.25" fill="#000">0</text>
<line x1="304.1" y1="1067.5" x2="308.1" y2="1067.5" stroke="#444" stroke-width="1"/>
<text transform="translate(289.35,1072.67) scale(1,1)" font-size="13.3" stroke="#000" stroke-width="0.25" fill="#000">1</text>
<line x1="304.1" y1="1040.5" x2="308.1" y2="1040.5" stroke="#444" stroke-width="1"/>
<text transform="translate(289.37,1044.85) scale(1,1)" font-size="13.3" stroke="#000" stroke-width="0.25" fill="#000">2</text>
<line x1="304.1" y1="1012.5" x2="308.1" y2="1012.5" stroke="#444" stroke-width="1"/>
<text transform="translate(289.29,1017.03) scale(1,1)" font-size="13.3" stroke="#000" stroke-width="0.25" fill="#000">3</text>
<line x1="304.1" y1="984.5" x2="308.1" y2="984.5" stroke="#444" stroke-width="1"/>
<text transform="translate(289.09,989.2) scale(1,1)" font-size="13.3" stroke="#000" stroke-width="0.25" fill="#000">4</text>
<rect x="333.5" y="1034.5" width="35" height="61" fill="#000" stroke="#222" stroke-width="1"/>
<line x1="350.5" y1="1006.48" x2="350.5" y2="1034.59" stroke="#222" stroke-width="1"/>
<line x1="348" y1="1006.5" x2="353.8" y2="1006.5" stroke="#222" stroke-width="1.2"/>
<rect x="419.5" y="1059.5" width="34" height="36" fill="#fff" stroke="#222" stroke-width="1"/>
<line x1="436.5" y1="1045.99" x2="436.5" y2="1073.82" stroke="#222" stroke-width="1"/>
<line x1="433.85" y1="1045.5" x2="439.65" y2="1045.5" stroke="#222" stroke-width="1.2"/>
<line x1="433.85" y1="1073.5" x2="439.65" y2="1073.5" stroke="#222" stroke-width="1.2"/>
<line x1="308.5" y1="984.5" x2="308.5" y2="1101.3" stroke="#444" stroke-width="1.1"/>
<line x1="308.1" y1="1095.5" x2="480.8" y2="1095.5" stroke="#333" stroke-width="1.2"/>
<line x1="394.5" y1="1095.8" x2="394.5" y2="1101.3" stroke="#444" stroke-width="1"/>
<line x1="480.5" y1="1095.8" x2="480.5" y2="1101.3" stroke="#444" stroke-width="1"/>
<text transform="translate(277.3,1064.27) rotate(-90) scale(1.09,1)" font-size="15.3" stroke="#000" stroke-width="0.2" fill="#000">LTC-IC</text>
<text transform="translate(345.57,1116.2) scale(0.95,1)" font-size="16.9" stroke="#000" stroke-width="0.2" fill="#000">pt 1</text>
<text transform="translate(422.22,1116) scale(0.99,1)" font-size="17" stroke="#000" stroke-width="0.2" fill="#000">pt 2</text>
<text transform="translate(1.3,1149.4) scale(0.97,1)" font-size="24.7" font-weight="bold" fill="#000">D</text>
<line x1="4.3" y1="1159.5" x2="490.3" y2="1159.5" stroke="#555" stroke-width="1"/>
<line x1="4.3" y1="1177.5" x2="48.5" y2="1177.5" stroke="#9a9a9a" stroke-width="1.2"/>
<line x1="48.5" y1="1177.9" x2="490.3" y2="1177.9" stroke="#111" stroke-width="1.6"/>
<line x1="4.3" y1="1232.5" x2="490.3" y2="1232.5" stroke="#111" stroke-width="1.3"/>
<line x1="4.3" y1="1255.5" x2="490.3" y2="1255.5" stroke="#111" stroke-width="1.3"/>
<line x1="4.3" y1="1278.5" x2="490.3" y2="1278.5" stroke="#111" stroke-width="1.3"/>
<line x1="4.5" y1="1159.2" x2="4.5" y2="1278.1" stroke="#9a9a9a" stroke-width="1.2"/>
<line x1="48.5" y1="1159.2" x2="48.5" y2="1177.9" stroke="#555" stroke-width="1"/>
<line x1="48.5" y1="1177.9" x2="48.5" y2="1278.1" stroke="#111" stroke-width="1.5"/>
<line x1="120" y1="1159.2" x2="120" y2="1278.1" stroke="#111" stroke-width="1.5"/>
<line x1="169.5" y1="1177.9" x2="169.5" y2="1278.1" stroke="#111" stroke-width="1.3"/>
<line x1="213.5" y1="1177.9" x2="213.5" y2="1278.1" stroke="#111" stroke-width="1.3"/>
<line x1="257.5" y1="1177.9" x2="257.5" y2="1278.1" stroke="#111" stroke-width="1.3"/>
<line x1="301.5" y1="1159.2" x2="301.5" y2="1278.1" stroke="#111" stroke-width="1.3"/>
<line x1="490.5" y1="1159.2" x2="490.5" y2="1278.1" stroke="#555" stroke-width="1.2"/>
<text transform="translate(166.46,1173.4) scale(1,1)" font-size="14.6" stroke="#000" stroke-width="0.5" fill="#000">CELL CYCLE</text>
<text transform="translate(52.17,1201) scale(1.04,1)" font-size="14.2" stroke="#000" stroke-width="0.5" fill="#000">% CD34+</text>
<text transform="translate(61.27,1219) scale(1,1)" font-size="14.2" stroke="#000" stroke-width="0.5" fill="#000">CELLS</text>
<text transform="translate(134.38,1210.9) scale(1.08,1)" font-size="13.8" stroke="#000" stroke-width="0.5" fill="#000">G0</text>
<text transform="translate(180.65,1210.9) scale(1.08,1)" font-size="13.8" stroke="#000" stroke-width="0.5" fill="#000">G1</text>
<text transform="translate(230.93,1210.9) scale(1.08,1)" font-size="13.8" stroke="#000" stroke-width="0.5" fill="#000">S</text>
<text transform="translate(262.02,1210.9) scale(1.08,1)" font-size="13.8" stroke="#000" stroke-width="0.5" fill="#000">G2/M</text>
<text transform="translate(305.91,1202.1) scale(1.05,1)" font-size="13.8" stroke="#000" stroke-width="0.5" fill="#000">RATIO BCR-ABL/ABL x 10</text>
<text transform="translate(477.76,1195.7) scale(1,1)" font-size="9.5" stroke="#000" stroke-width="0.4" fill="#000">2</text>
<text transform="translate(358.85,1220.5) scale(1.15,1)" font-size="13.4" stroke="#000" stroke-width="0.5" fill="#000">Lin-CD34-</text>
<text transform="translate(79.84,1249.6) scale(1.04,1)" font-size="14.4" stroke="#000" stroke-width="0.5" fill="#000">0</text>
<text transform="translate(129.7,1249.6) scale(1.04,1)" font-size="14.4" stroke="#000" stroke-width="0.5" fill="#000">92.8</text>
<text transform="translate(181.09,1249.6) scale(1.04,1)" font-size="14.4" stroke="#000" stroke-width="0.5" fill="#000">6.2</text>
<text transform="translate(225.53,1249.6) scale(1.04,1)" font-size="14.4" stroke="#000" stroke-width="0.5" fill="#000">0.6</text>
<text transform="translate(267.22,1249.6) scale(1.04,1)" font-size="14.4" stroke="#000" stroke-width="0.5" fill="#000">0.4</text>
<text transform="translate(370.06,1249.6) scale(1.04,1)" font-size="14.4" stroke="#000" stroke-width="0.5" fill="#000">3.7±0.2</text>
<text transform="translate(73.67,1272) scale(1.04,1)" font-size="14.4" stroke="#000" stroke-width="0.5" fill="#000">5.7</text>
<text transform="translate(129.56,1272) scale(1.04,1)" font-size="14.4" stroke="#000" stroke-width="0.5" fill="#000">77.4</text>
<text transform="translate(182.97,1272) scale(1.04,1)" font-size="14.4" stroke="#000" stroke-width="0.5" fill="#000">11</text>
<text transform="translate(225.49,1272) scale(1.04,1)" font-size="14.4" stroke="#000" stroke-width="0.5" fill="#000">8.8</text>
<text transform="translate(267.24,1272) scale(1.04,1)" font-size="14.4" stroke="#000" stroke-width="0.5" fill="#000">2.8</text>
<text transform="translate(370,1272) scale(1.04,1)" font-size="14.4" stroke="#000" stroke-width="0.5" fill="#000">9.8±0.7</text>
<text transform="translate(21.04,1249.8) scale(1,1)" font-size="17" stroke="#000" stroke-width="0.5" fill="#000">t</text>
<text transform="translate(26.26,1252.8) scale(1,1)" font-size="11.2" stroke="#000" stroke-width="0.3" fill="#000">0</text>
<text transform="translate(21.04,1273.4) scale(1,1)" font-size="17" stroke="#000" stroke-width="0.5" fill="#000">t</text>
<text transform="translate(26.13,1275.9) scale(1,1)" font-size="11.2" stroke="#000" stroke-width="0.3" fill="#000">7</text>
</svg>
</body></html>
